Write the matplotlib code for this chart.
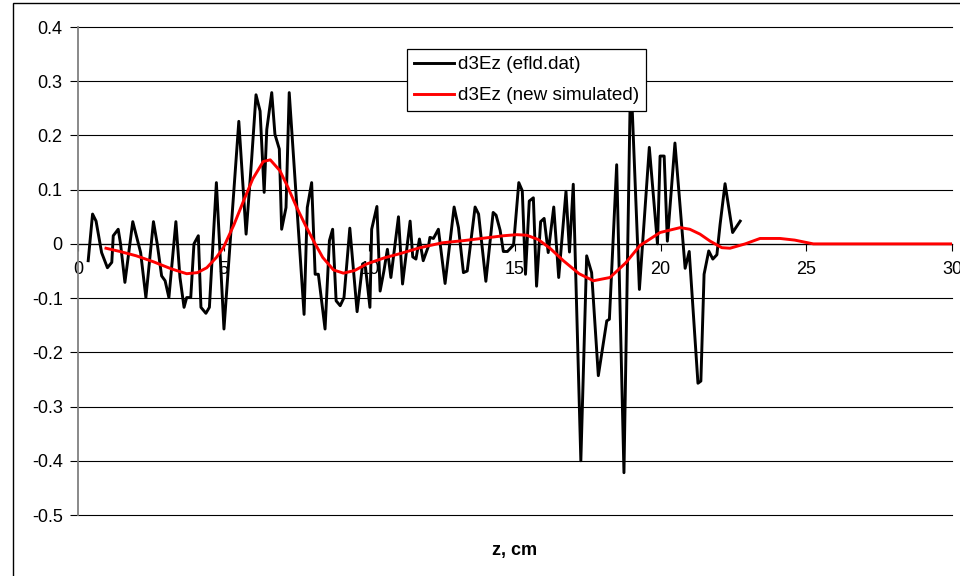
import matplotlib
matplotlib.use("Agg")
import matplotlib.pyplot as plt
from matplotlib.patches import Rectangle
from matplotlib.ticker import FuncFormatter, MultipleLocator

plt.rcParams['font.family'] = ['Liberation Sans', 'DejaVu Sans']
plt.rcParams['axes.unicode_minus'] = False

# d3Ez read from efld.dat
efld_z = [0.35, 0.50, 0.62, 0.81, 1.01, 1.16, 1.21, 1.38, 1.46, 1.61, 1.88, 2.15,
          2.33, 2.59, 2.72, 2.87, 2.99, 3.12, 3.36, 3.50, 3.64, 3.73, 3.87, 3.98,
          4.13, 4.22, 4.39, 4.51, 4.75, 5.01, 5.52, 5.77, 5.96, 6.11, 6.25, 6.39,
          6.48, 6.65, 6.76, 6.91, 6.99, 7.14, 7.25, 7.76, 7.87, 8.02, 8.14, 8.25,
          8.48, 8.63, 8.74, 8.86, 9.00, 9.13, 9.33, 9.58, 9.77, 9.87, 10.02, 10.08,
          10.26, 10.37, 10.50, 10.62, 10.74, 11.00, 11.14, 11.40, 11.49, 11.60, 11.72,
          11.85, 12.03, 12.08, 12.20, 12.37, 12.60, 12.91, 13.06, 13.23, 13.36, 13.63,
          13.75, 14.00, 14.25, 14.35, 14.49, 14.60, 14.74, 14.95, 15.13, 15.25, 15.36,
          15.49, 15.63, 15.74, 15.88, 16.00, 16.14, 16.33, 16.50, 16.75, 16.87, 17.00,
          17.26, 17.46, 17.63, 17.86, 18.15, 18.24, 18.49, 18.74, 18.97, 19.27, 19.61,
          19.89, 19.98, 20.12, 20.23, 20.49, 20.84, 20.98, 21.28, 21.38, 21.49, 21.65,
          21.79, 21.93, 22.04, 22.21, 22.47, 22.73]
efld_v = [-0.031, 0.055, 0.042, -0.016, -0.044, -0.034, 0.015, 0.027, 0.000, -0.071,
          0.041, -0.016, -0.099, 0.041, 0.000, -0.059, -0.068, -0.099, 0.041, -0.062,
          -0.117, -0.099, -0.099, 0.000, 0.015, -0.117, -0.128, -0.117, 0.113, -0.157,
          0.226, 0.018, 0.156, 0.275, 0.245, 0.095, 0.211, 0.279, 0.202, 0.175, 0.027,
          0.067, 0.279, -0.130, 0.067, 0.113, -0.056, -0.056, -0.157, 0.006, 0.027,
          -0.105, -0.114, -0.099, 0.029, -0.125, -0.037, -0.044, -0.117, 0.027, 0.069,
          -0.087, -0.050, -0.010, -0.062, 0.050, -0.074, 0.042, -0.024, -0.028, 0.009,
          -0.031, -0.004, 0.012, 0.010, 0.027, -0.073, 0.068, 0.030, -0.053, -0.050,
          0.068, 0.055, -0.069, 0.058, 0.053, 0.025, -0.014, -0.014, -0.002, 0.113,
          0.098, -0.056, 0.079, 0.085, -0.078, 0.041, 0.047, -0.016, 0.068, -0.062,
          0.097, -0.015, 0.110, -0.400, -0.022, -0.053, -0.243, -0.142, -0.139, 0.146,
          -0.422, 0.320, -0.084, 0.178, 0.000, 0.162, 0.162, 0.005, 0.186, -0.045,
          -0.014, -0.257, -0.253, -0.056, -0.013, -0.028, -0.020, 0.036, 0.111, 0.021,
          0.042]

# d3Ez from the new simulation
sim_z = [0.96, 1.44, 2.00, 2.59, 3.20, 3.73, 4.10, 4.42, 4.75, 4.99, 5.35, 5.68,
         6.00, 6.36, 6.60, 6.93, 7.20, 7.51, 7.80, 8.08, 8.40, 8.77, 9.11, 9.50,
         9.91, 10.50, 11.05, 11.74, 12.50, 13.23, 14.00, 14.60, 15.06, 15.40, 15.80,
         16.20, 16.66, 17.20, 17.69, 18.26, 18.80, 19.29, 19.98, 20.67, 21.00, 21.35,
         21.70, 22.10, 22.38, 22.90, 23.41, 24.10, 24.60, 25.24, 30.00]
sim_v = [-0.008, -0.014, -0.022, -0.033, -0.046, -0.055, -0.053, -0.044, -0.025,
         -0.007, 0.035, 0.079, 0.120, 0.152, 0.155, 0.135, 0.105, 0.067, 0.035,
         0.006, -0.025, -0.048, -0.054, -0.049, -0.037, -0.026, -0.018, -0.007,
         0.002, 0.006, 0.011, 0.015, 0.017, 0.016, 0.008, -0.008, -0.031, -0.055,
         -0.068, -0.062, -0.035, -0.003, 0.021, 0.030, 0.027, 0.018, 0.005, -0.007,
         -0.008, 0.000, 0.010, 0.010, 0.007, 0.000, 0.000]

labels = ["d3Ez (efld.dat)", "d3Ez (new simulated)"]
x_label = "z, cm"

FS = 13

fig = plt.figure(figsize=(9.6, 5.76), dpi=100)
fig.patch.set_facecolor('white')
ax = fig.add_axes([78 / 960, 1 - 515 / 576, (952 - 78) / 960, 488 / 576])

ax.plot(efld_z, efld_v, color='black', lw=2.1, label=labels[0], zorder=3)
ax.plot(sim_z, sim_v, color='#ff0000', lw=2.1, label=labels[1], zorder=4)

ax.set_xlim(0, 30)
ax.set_ylim(-0.5, 0.4)
ax.xaxis.set_major_locator(MultipleLocator(5))
ax.yaxis.set_major_locator(MultipleLocator(0.1))
ax.yaxis.set_major_formatter(FuncFormatter(
    lambda v, p: f"{v:.1f}".rstrip('0').rstrip('.') if abs(v) > 1e-9 else "0"))

ax.yaxis.grid(True, color='black', lw=0.8)
ax.set_axisbelow(True)
for gl in ax.yaxis.get_gridlines():
    gl.set_clip_on(False)

for s in ('top', 'right'):
    ax.spines[s].set_visible(False)
ax.spines['left'].set_color('#808080')
ax.spines['left'].set_linewidth(1.3)
ax.spines['bottom'].set_position(('data', 0))
ax.spines['bottom'].set_color('black')
ax.spines['bottom'].set_linewidth(0.9)
ax.spines['bottom'].set_zorder(2)

ax.tick_params(axis='y', direction='out', length=6, width=0.8, color='black',
               labelsize=FS, pad=5)
ax.tick_params(axis='x', direction='out', length=5, width=0.8, color='black',
               labelsize=FS, pad=7)

ax.text(0.5, -0.072, x_label, transform=ax.transAxes, ha='center', va='center',
        fontsize=FS, fontweight='bold')

leg = ax.legend(loc='upper left', bbox_to_anchor=(0.376, 0.955), borderaxespad=0,
                fontsize=13.6, frameon=True, fancybox=False, shadow=False,
                handlelength=2.15, handletextpad=0.2, labelspacing=0.72,
                borderpad=0.38)
leg.get_frame().set_edgecolor('black')
leg.get_frame().set_linewidth(0.9)
leg.get_frame().set_alpha(1)
leg.set_zorder(10)

# chart border
fig.add_artist(Rectangle((12.5 / 960, -0.1), 1.2, 1.1 - 3.5 / 576,
                         transform=fig.transFigure, fill=False,
                         ec='black', lw=1.0))

fig.savefig('out.png', dpi=100, facecolor='white')
